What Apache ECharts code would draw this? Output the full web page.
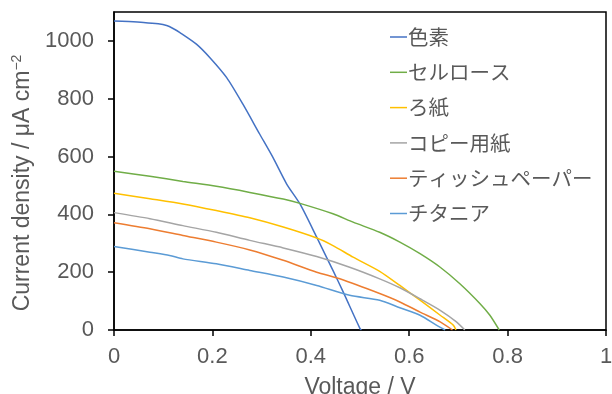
<!DOCTYPE html>
<html>
<head>
<meta charset="utf-8">
<script src="https://cdn.jsdelivr.net/npm/echarts@6/dist/echarts.min.js"></script>
<style>html,body{margin:0;padding:0;background:#fff}#c{width:612px;height:394px}</style>
</head>
<body>
<div id="c"></div>
<script>
// Data
const seriesNames = ['色素', 'セルロース', 'ろ紙', 'コピー用紙', 'ティッシュペーパー', 'チタニア'];
const xTicks = [0, 0.2, 0.4, 0.6, 0.8, 1];
const yTicks = [0, 200, 400, 600, 800, 1000];

const dyeV = [0, 0.03, 0.06, 0.09, 0.107, 0.12, 0.134, 0.1675, 0.195, 0.229, 0.262, 0.296, 0.323, 0.351, 0.378, 0.412, 0.445, 0.466, 0.50, 0.503];
const dyeJ = [1069, 1067, 1064, 1059, 1053, 1043, 1029, 989, 942, 873, 781, 678, 597, 505, 436, 321, 206, 131, 5, 0];

const celluloseV = [0, 0.073, 0.14, 0.208, 0.276, 0.344, 0.378, 0.445, 0.486, 0.540, 0.581, 0.622, 0.663, 0.703, 0.744, 0.764, 0.783];
const celluloseJ = [549, 532, 514, 497, 476, 453, 438, 402, 373, 338, 304, 264, 217, 160, 91, 51, 0];

const filterV = [0, 0.073, 0.14, 0.208, 0.276, 0.344, 0.412, 0.445, 0.486, 0.540, 0.581, 0.622, 0.663, 0.690, 0.695];
const filterJ = [473, 454, 436, 413, 388, 356, 318, 292, 252, 203, 154, 103, 51, 16, 0];

const copyV = [0, 0.073, 0.14, 0.208, 0.276, 0.344, 0.412, 0.479, 0.540, 0.581, 0.622, 0.663, 0.696, 0.713];
const copyJ = [406, 385, 361, 338, 310, 284, 254, 217, 177, 146, 108, 68, 28, 0];

const tissueV = [0, 0.073, 0.14, 0.208, 0.276, 0.344, 0.412, 0.459, 0.540, 0.581, 0.622, 0.663, 0.688];
const tissueJ = [371, 350, 327, 304, 277, 241, 200, 177, 126, 97, 62, 28, 0];

const titaniaV = [0, 0.073, 0.113, 0.14, 0.208, 0.276, 0.344, 0.412, 0.479, 0.540, 0.581, 0.622, 0.656, 0.673];
const titaniaJ = [289, 269, 258, 246, 229, 206, 183, 154, 120, 103, 77, 51, 16, 0];

const colors = ['#4472C4', '#70AD47', '#FFC000', '#A5A5A5', '#ED7D31', '#5B9BD5'];
const allV = [dyeV, celluloseV, filterV, copyV, tissueV, titaniaV];
const allJ = [dyeJ, celluloseJ, filterJ, copyJ, tissueJ, titaniaJ];

const pair = (v, j) => v.map((x, i) => [x, j[i]]);
const textColor = '#595959';
const latin = "'Liberation Sans', Arial, sans-serif";

const chart = echarts.init(document.getElementById('c'), null, {renderer: 'canvas'});
chart.setOption({
  animation: false,
  backgroundColor: '#fff',
  grid: {left: 114, right: 6, top: 12, bottom: 64, containLabel: false, outerBoundsMode: 'none',
    show: true, borderColor: '#000', borderWidth: 1.5, backgroundColor: 'transparent'},
  legend: {
    orient: 'vertical', left: 385, top: 21, itemGap: 13.3, itemWidth: 17, itemHeight: 1.5,
    icon: 'rect',
    data: seriesNames,
    textStyle: {fontSize: 20.5, color: textColor, fontFamily: "'Noto Sans CJK JP', sans-serif", lineHeight: 22, padding: [0, 0, 0, -4]}
  },
  xAxis: {
    type: 'value', min: 0, max: 1, interval: 0.2,
    name: 'Voltage / V', nameLocation: 'middle', nameGap: 46,
    nameTextStyle: {fontSize: 23, color: textColor, fontFamily: latin},
    axisLine: {show: true, onZero: false, lineStyle: {color: '#000', width: 1.5}},
    axisTick: {show: true, inside: false, length: 6, lineStyle: {color: '#000', width: 1.5}, customValues: xTicks},
    axisLabel: {fontSize: 22, color: textColor, fontFamily: latin, margin: 16, customValues: xTicks,
      formatter: v => String(v)},
    splitLine: {show: false}
  },
  yAxis: {
    type: 'value', min: 0, max: 1100, interval: 200,
    name: '{a|Current density / μA cm}{s|−2}', nameLocation: 'middle', nameGap: 78,
    nameTextStyle: {color: textColor, fontFamily: latin, fontSize: 23, padding: [0, 24, 0, 0],
      rich: {a: {fontSize: 23, color: textColor, fontFamily: latin}, s: {fontSize: 14, color: textColor, fontFamily: latin, padding: [0, 0, 12, 0]}}},
    axisLine: {show: true, onZero: false, lineStyle: {color: '#000', width: 1.5}},
    axisTick: {show: true, inside: false, length: 6, lineStyle: {color: '#000', width: 1.5}, customValues: yTicks},
    axisLabel: {fontSize: 22, color: textColor, fontFamily: latin, margin: 20, customValues: yTicks,
      formatter: v => String(v)},
    splitLine: {show: false}
  },
  series: seriesNames.map((n, k) => ({
    name: n, type: 'line', data: pair(allV[k], allJ[k]),
    showSymbol: false, symbol: 'none', smooth: 0.25,
    lineStyle: {color: colors[k], width: 1.5}, itemStyle: {color: colors[k]}
  }))
});
</script>
</body>
</html>
